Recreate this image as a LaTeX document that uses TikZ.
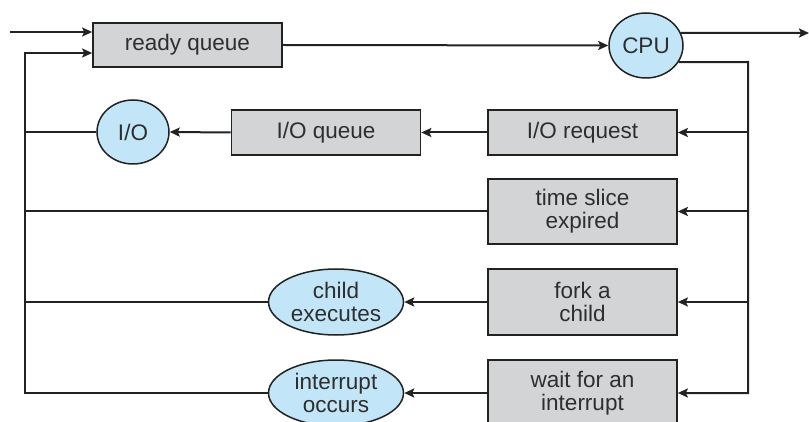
\documentclass[tikz,border=0pt]{standalone}
\usepackage{fontspec}
\setmainfont{Liberation Sans}
\usetikzlibrary{shapes.geometric,arrows.meta}
\definecolor{boxgray}{HTML}{D3D4D5}
\definecolor{ellblue}{HTML}{C2E6F8}
\definecolor{txt}{HTML}{2E2E2E}
\definecolor{ln}{HTML}{222222}
\begin{document}
\begin{tikzpicture}[x=1pt,y=-1pt,
  every node/.style={font=\fontsize{22.5}{23}\selectfont, text=txt, align=center, inner sep=0pt},
  qbox/.style={draw=ln, line width=1.7pt, fill=boxgray, rectangle, minimum width=189pt},
  ell/.style={draw=ln, line width=1.5pt, fill=ellblue, ellipse},
  conn/.style={draw=ln, line width=2pt},
  arr/.style={conn, -{Stealth[length=10pt,width=9pt,inset=2pt]}}]
\useasboundingbox[fill=white] (0,0) rectangle (809,422);
% nodes
\node[qbox, minimum height=44pt] (rq) at (187.5,45) {ready queue};
\node[ell, minimum width=74pt, minimum height=65pt] (cpu) at (646,45.5) {CPU};
\node[qbox, minimum height=45pt] (ioreq) at (582.5,132.5) {I/O request};
\node[qbox, minimum height=45pt] (ioq) at (326,132.5) {I/O queue};
\node[ell, minimum width=72pt, minimum height=64pt] (io) at (133,132) {I/O};
\node[qbox, minimum height=65pt] (ts) at (582.5,211.5) {time slice\\expired};
\node[qbox, minimum height=66pt] (fork) at (582.5,302) {fork a\\child};
\node[qbox, minimum height=66pt] (wait) at (582.5,393) {wait for an\\interrupt};
\node[ell, minimum width=135pt, minimum height=66pt] (child) at (336,302) {child\\executes};
\node[ell, minimum width=135pt, minimum height=66pt] (intr) at (336,393) {interrupt\\occurs};
% coordinates
\coordinate (in0) at (10,32);
\coordinate (ltop) at (25,53);
\coordinate (out) at (809,33);
\coordinate (rtop) at (748,62);
% connectors
\draw[arr] (in0) -- (in0 -| rq.west);
\draw[arr] (intr.west) -- (intr.west -| ltop) -- (ltop) -- (ltop -| rq.west);
\draw[conn] (io.west) -- (io.west -| ltop);
\draw[conn] (ts.west) -- (ts.west -| ltop);
\draw[conn] (child.west) -- (child.west -| ltop);
\draw[arr] (rq.east) -- (cpu.west);
\draw[arr] (cpu.20) -- (out);
\draw[arr] (cpu.-27) -- (rtop) -- (rtop |- wait.east) -- (wait.east);
\draw[arr] (rtop |- ioreq.east) -- (ioreq.east);
\draw[arr] (rtop |- ts.east) -- (ts.east);
\draw[arr] (rtop |- fork.east) -- (fork.east);
\draw[arr] (ioreq.west) -- (ioq.east);
\draw[arr] (ioq.west) -- (io.east);
\draw[arr] (fork.west) -- (child.east);
\draw[arr] (wait.west) -- (intr.east);
\end{tikzpicture}
\end{document}
